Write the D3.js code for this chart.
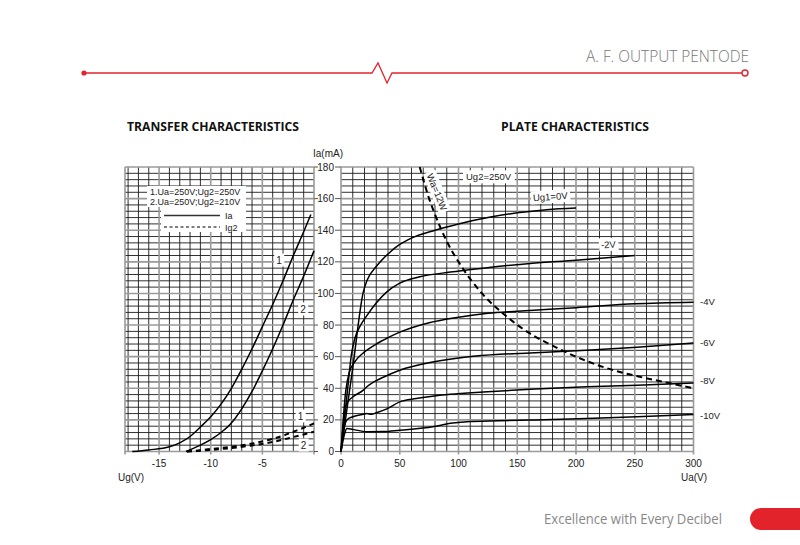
<!DOCTYPE html>
<html><head><meta charset="utf-8">
<script src="https://cdn.jsdelivr.net/npm/d3@7"></script>
<style>html,body{margin:0;padding:0;background:#fff;}svg{display:block;}</style>
</head><body>
<svg id="c" width="800" height="545"></svg>
<script>
// ---------- DATA ----------
const headerTitle = "A. F. OUTPUT PENTODE";
const footerText = "Excellence with Every Decibel";
const leftTitle = "TRANSFER CHARACTERISTICS";
const rightTitle = "PLATE CHARACTERISTICS";

const yTicks = [0,20,40,60,80,100,120,140,160,180];
const ugTicks = [-15,-10,-5];
const uaTicks = [0,50,100,150,200,250,300];

// Transfer characteristics (Ug V, Ia/Ig2 mA)
const ia1 = [[-17.6,0],[-16,1],[-14,3],[-13,5.5],[-12,9.5],[-11,15.5],[-10,22],[-9,30],[-8,40],[-7,52],[-6,65],[-5,79],[-4,93],[-3,108],[-2,124],[-1,139],[-0.3,150]];
const ia2 = [[-12.4,0],[-11,4],[-10,7.5],[-9,12],[-8,18],[-7,27],[-6,38],[-5,51],[-4,65],[-3,80],[-2,96],[-1,111],[0,127]];
const ig2_1 = [[-12.3,0],[-11,0.8],[-10,1.6],[-8,3],[-6,5],[-4,8],[-3,10],[-2,12.5],[-1,15],[0,17.8]];
const ig2_2 = [[-12.3,0],[-10,1],[-8,2.2],[-6,3.8],[-4,6],[-3,7.5],[-2,9.2],[-1,10.8],[0,12.5]];

// Plate characteristics (Ua V, Ia mA) for Ug1 values
const ug1Labels = ["Ug1=0V","-2V","-4V","-6V","-8V","-10V"];
const plate0 = [[0,0],[10,53],[19,101],[22,108],[30,117],[40,125],[50,131],[60,135],[80,140],[100,144],[125,148],[150,151],[175,153],[200,154]];
const plate2 = [[0,0],[5,35],[9,62],[12,72],[16,79],[22,86],[30,94],[39,101],[50,106.5],[67,110.5],[93,113.5],[121,116],[161,119],[200,121],[250,124]];
const plate4 = [[0,0],[4,38],[7,50],[12,57],[20,63],[30,68],[40,72],[50,75.5],[75,81.5],[100,85],[125,87.5],[150,88.8],[200,91],[250,93.5],[300,94.5]];
const plate6 = [[0,0],[3,24],[5,30.5],[10,34.5],[19,38.8],[22,41],[28,44],[36,47],[50,51.4],[78,56.6],[107,59.8],[135,61.5],[161,62.3],[209,64],[252,66],[300,68.6]];
const plate8 = [[0,0],[3,16],[5,20],[10,22],[19,23.6],[22,24],[26,23.5],[30,24.5],[39,27],[50,31.4],[64,33.5],[93,36.2],[121,37.7],[161,39.4],[209,40.9],[252,41.9],[300,43.4]];
const plate10 = [[0,0],[3,11],[5,14.6],[10,14],[22,12.5],[36,12.6],[50,13.5],[78,15.6],[93,17.8],[107,18.8],[135,19.4],[161,19.9],[209,20.9],[252,22],[300,23.4]];
// Anode dissipation limit Wa = 12W
const wa12 = [[67,180],[75,160],[80,150],[90,133],[100,120],[120,100],[140,86],[160,75],[180,67],[200,60],[225,53],[250,48],[275,44],[300,40]];

// ---------- DRAW ----------
const svg = d3.select("#c");
const red = "#e3232c";
const FONT = "'Liberation Sans', Arial, sans-serif";

// header
svg.append("text").attr("x",749).attr("y",62).attr("text-anchor","end")
  .attr("font-family","'Open Sans', sans-serif").attr("font-size",16).attr("font-weight",300)
  .attr("fill","#777").attr("textLength",163).attr("lengthAdjust","spacingAndGlyphs").text(headerTitle);
const hdr = d3.line()([[84,73],[372,73],[378,63],[387,83],[392,73],[742,73]]);
svg.append("path").attr("d",hdr).attr("fill","none").attr("stroke",red).attr("stroke-width",1.3);
svg.append("circle").attr("cx",84).attr("cy",73).attr("r",2.6).attr("fill",red);
svg.append("circle").attr("cx",745).attr("cy",73).attr("r",3).attr("fill","#fff").attr("stroke",red).attr("stroke-width",1.4);

// footer
svg.append("text").attr("x",544).attr("y",524).attr("font-family","'Open Sans', sans-serif")
  .attr("font-size",14).attr("fill","#888").attr("textLength",178).attr("lengthAdjust","spacingAndGlyphs").text(footerText);
svg.append("rect").attr("x",750).attr("y",508).attr("width",80).attr("height",22).attr("rx",11).attr("fill",red);

// titles
svg.append("text").attr("x",127).attr("y",131).attr("font-family","'Open Sans', sans-serif").attr("font-weight","bold")
  .attr("font-size",11.5).attr("fill","#111").attr("textLength",172).attr("lengthAdjust","spacingAndGlyphs").text(leftTitle);
svg.append("text").attr("x",501).attr("y",131).attr("font-family","'Open Sans', sans-serif").attr("font-weight","bold")
  .attr("font-size",11.5).attr("fill","#111").attr("textLength",148).attr("lengthAdjust","spacingAndGlyphs").text(rightTitle);

// scales
const y = d3.scaleLinear().domain([0,180]).range([451.5,167]);
const xL = d3.scaleLinear().domain([-18.3,0]).range([125,314]);
const xR = d3.scaleLinear().domain([0,300]).range([341,693.5]);

const minorCol = "#1a1a1a", majorCol = "#9a9a9a";
const yMinor = d3.range(0,181,4).filter(v=>v%20!==0);
function grid(g, x, xMinor, xMajor, x0, x1){
  const X0 = x(x0), X1 = x(x1);
  g.selectAll(".hm").data(yMinor).join("line").attr("x1",X0).attr("x2",X1)
    .attr("y1",d=>y(d)).attr("y2",d=>y(d)).attr("stroke",minorCol).attr("stroke-width",0.9);
  g.selectAll(".vm").data(xMinor).join("line").attr("class","vm").attr("x1",d=>x(d)).attr("x2",d=>x(d))
    .attr("y1",y(0)).attr("y2",y(180)).attr("stroke",minorCol).attr("stroke-width",0.9);
  g.selectAll(".hM").data(yTicks).join("line").attr("class","hM").attr("x1",X0).attr("x2",X1)
    .attr("y1",d=>y(d)).attr("y2",d=>y(d)).attr("stroke",majorCol).attr("stroke-width",1.6);
  g.selectAll(".vM").data(xMajor).join("line").attr("class","vM").attr("x1",d=>x(d)).attr("x2",d=>x(d))
    .attr("y1",y(0)+3).attr("y2",y(180)).attr("stroke",majorCol).attr("stroke-width",1.6);
}
const gL = svg.append("g");
grid(gL, xL, d3.range(-18,1,1).filter(v=>v%5!==0), [-18.3,-15,-10,-5,0], -18.3, 0);
const gR = svg.append("g");
grid(gR, xR, d3.range(0,301,10).filter(v=>v%50!==0), uaTicks, 0, 300);

// y tick marks and labels (shared)
svg.selectAll(".ytk").data(yTicks).join("line").attr("x1",335).attr("x2",341)
  .attr("y1",d=>y(d)).attr("y2",d=>y(d)).attr("stroke","#555").attr("stroke-width",1);
svg.selectAll(".ytkl").data(yTicks).join("line").attr("x1",314).attr("x2",318)
  .attr("y1",d=>y(d)).attr("y2",d=>y(d)).attr("stroke","#555").attr("stroke-width",1);
svg.selectAll(".ylab").data(yTicks).join("text").attr("x",334).attr("y",d=>y(d)+3.5)
  .attr("text-anchor","end").attr("font-family",FONT).attr("font-size",10).attr("fill","#222").text(d=>d);
svg.append("text").attr("x",328).attr("y",157).attr("text-anchor","middle").attr("font-family",FONT)
  .attr("font-size",10).attr("fill","#222").text("Ia(mA)");

// x labels
svg.selectAll(".xl").data(ugTicks).join("text").attr("x",d=>xL(d)).attr("y",467).attr("text-anchor","middle")
  .attr("font-family",FONT).attr("font-size",10).attr("fill","#222").text(d=>d);
svg.selectAll(".xr").data(uaTicks).join("text").attr("x",d=>xR(d)).attr("y",467).attr("text-anchor","middle")
  .attr("font-family",FONT).attr("font-size",10).attr("fill","#222").text(d=>d);
svg.append("text").attr("x",118).attr("y",481).attr("font-family",FONT).attr("font-size",10).attr("fill","#222").text("Ug(V)");
svg.append("text").attr("x",694).attr("y",481).attr("text-anchor","middle").attr("font-family",FONT).attr("font-size",10).attr("fill","#222").text("Ua(V)");

// curves
const lineL = d3.line().x(d=>xL(d[0])).y(d=>y(d[1])).curve(d3.curveMonotoneX);
const lineR = d3.line().x(d=>xR(d[0])).y(d=>y(d[1])).curve(d3.curveMonotoneX);
[ia1, ia2].forEach(s=>svg.append("path").attr("d",lineL(s)).attr("fill","none").attr("stroke","#000").attr("stroke-width",1.5));
[ig2_1, ig2_2].forEach(s=>svg.append("path").attr("d",lineL(s)).attr("fill","none").attr("stroke","#000").attr("stroke-width",2).attr("stroke-dasharray","5,4"));
[plate0,plate2,plate4,plate6,plate8,plate10].forEach(s=>svg.append("path").attr("d",lineR(s)).attr("fill","none").attr("stroke","#000").attr("stroke-width",1.5));
svg.append("path").attr("d",lineR(wa12)).attr("fill","none").attr("stroke","#000").attr("stroke-width",2).attr("stroke-dasharray","6,4");

// helper: text with white box
function boxText(x, yy, txt, size, anchor, rot, padX, padY){
  const g = svg.append("g").attr("transform",`translate(${x},${yy}) rotate(${rot||0})`);
  const r = g.append("rect").attr("fill","#fff");
  const t = g.append("text").attr("font-family",FONT).attr("font-size",size).attr("fill","#222")
    .attr("text-anchor",anchor||"start").attr("dy","0.35em").text(txt);
  const b = t.node().getBBox();
  r.attr("x",b.x-(padX||2)).attr("y",b.y-(padY||1)).attr("width",b.width+2*(padX||2)).attr("height",b.height+2*(padY||1));
  return g;
}
// legend in left chart
svg.append("rect").attr("x",147).attr("y",186).attr("width",99).attr("height",21).attr("fill","#fff");
svg.append("rect").attr("x",161).attr("y",207).attr("width",85).attr("height",25).attr("fill","#fff");
svg.append("text").attr("x",150).attr("y",195).attr("font-family",FONT).attr("font-size",9).attr("fill","#222").text("1.Ua=250V;Ug2=250V");
svg.append("text").attr("x",150).attr("y",205).attr("font-family",FONT).attr("font-size",9).attr("fill","#222").text("2.Ua=250V;Ug2=210V");
svg.append("line").attr("x1",164).attr("x2",220).attr("y1",215.5).attr("y2",215.5).attr("stroke","#333").attr("stroke-width",1.5);
svg.append("line").attr("x1",164).attr("x2",220).attr("y1",227).attr("y2",227).attr("stroke","#000").attr("stroke-width",1.2).attr("stroke-dasharray","3,2.5");
svg.append("text").attr("x",225).attr("y",219).attr("font-family",FONT).attr("font-size",9).attr("fill","#222").text("Ia");
svg.append("text").attr("x",225).attr("y",230.5).attr("font-family",FONT).attr("font-size",9).attr("fill","#222").text("Ig2");

// curve number labels
boxText(279, 260, "1", 10, "middle", 0, 2, 1);
boxText(303, 309, "2", 10, "middle", 0, 2, 1);
boxText(300.5, 416, "1", 10, "middle", 0, 2, 1);
boxText(303.5, 445, "2", 10, "middle", 0, 2, 1);

// right chart labels
boxText(466, 177, "Ug2=250V", 9.5, "start", 0, 3, 1);
boxText(533, 198, ug1Labels[0], 9.5, "start", -4, 2, 1);
boxText(601, 245, ug1Labels[1], 9.5, "start", -3, 2, 1);
[[ug1Labels[2],302],[ug1Labels[3],343],[ug1Labels[4],381],[ug1Labels[5],415.5]].forEach(d=>{
  svg.append("text").attr("x",700).attr("y",d[1]).attr("dy","0.35em").attr("font-family",FONT)
    .attr("font-size",9.5).attr("fill","#222").text(d[0]);
});
boxText(437, 192, "Wa=12W", 9.5, "middle", 68, 2, 1);
</script>
</body></html>
